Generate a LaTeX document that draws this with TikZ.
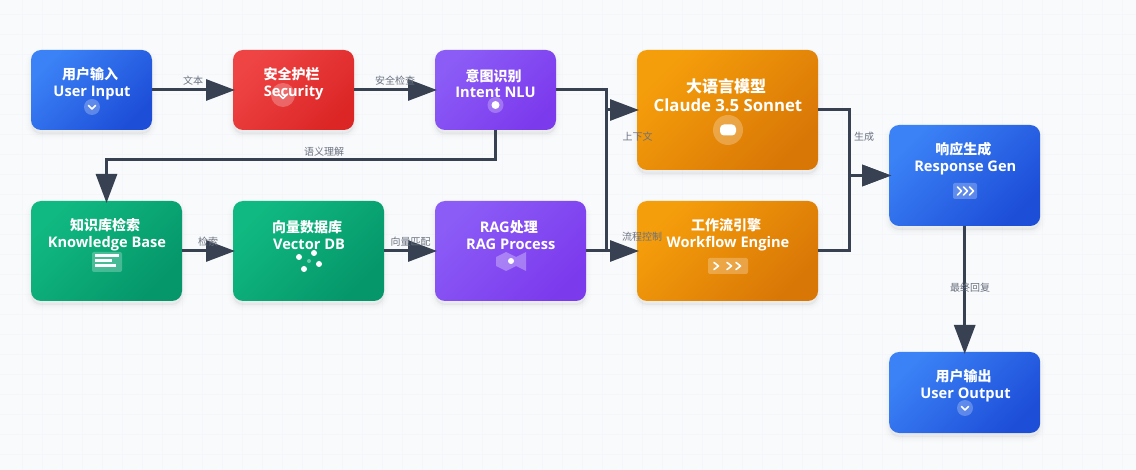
\documentclass[tikz,border=0pt]{standalone}
\usepackage{fontspec}
\setmainfont[Scale=1.045]{Open Sans}
\newfontfamily\cjk{Noto Sans CJK SC}
\newcommand{\zh}[1]{{\cjk #1}\kern4pt}
\usetikzlibrary{arrows.meta,shadows,calc}
\definecolor{bgc}{HTML}{F9FAFC}
\definecolor{gridc}{HTML}{F4F6F9}
\definecolor{linec}{HTML}{374151}
\definecolor{labelc}{HTML}{6B7280}
\definecolor{blueA}{HTML}{3B82F6}
\definecolor{blueB}{HTML}{1D4ED8}
\definecolor{redA}{HTML}{EF4444}
\definecolor{redB}{HTML}{DC2626}
\definecolor{purpleA}{HTML}{8B5CF6}
\definecolor{purpleB}{HTML}{7C3AED}
\definecolor{orangeA}{HTML}{F59E0B}
\definecolor{orangeB}{HTML}{D97706}
\definecolor{greenA}{HTML}{10B981}
\definecolor{greenB}{HTML}{059669}
\tikzset{
  softshadow/.style={
    general shadow={fill=black,draw=black,line width=11pt,opacity=.008,shadow yshift=-4pt},
    general shadow={fill=black,draw=black,line width=7pt,opacity=.012,shadow yshift=-4pt},
    general shadow={fill=black,draw=black,line width=3pt,opacity=.02,shadow yshift=-4pt}},
  boxbase/.style={rectangle,rounded corners=10pt,inner sep=0pt,outer sep=0pt,softshadow,minimum width=#1},
  bluebox/.style={boxbase=#1,left color=blueA,right color=blueB,shading angle=45},
  redbox/.style={boxbase=#1,left color=redA,right color=redB,shading angle=45},
  purplebox/.style={boxbase=#1,left color=purpleA,right color=purpleB,shading angle=45},
  orangebox/.style={boxbase=#1,left color=orangeA,right color=orangeB,shading angle=45},
  greenbox/.style={boxbase=#1,left color=greenA,right color=greenB,shading angle=45},
  title/.style={text=white,align=center,inner sep=0pt,font=\fontsize{14}{16.8}\selectfont\bfseries},
  bigtitle/.style={text=white,align=center,inner sep=0pt,font=\fontsize{16}{19.4}\selectfont\bfseries},
  edgelabel/.style={text=labelc,inner sep=0pt,font=\fontsize{10}{12}\selectfont\cjk},
  conn/.style={draw=linec,line width=3pt,-{Triangle[length=29pt,width=21pt]},shorten >=-2pt},
  halo/.style={fill=white,fill opacity=.25},
  chev/.style={draw=white,line width=1.6pt,line cap=round,line join=round},
}
\begin{document}
\begin{tikzpicture}[x=1pt,y=-1pt]
\useasboundingbox (0,0) rectangle (1136,470);
\fill[bgc] (0,0) rectangle (1136,470);
\foreach \gx in {22,42,...,1122} \draw[gridc,line width=.8pt] (\gx,0) -- (\gx,470);
\foreach \gy in {14,34,...,454} \draw[gridc,line width=.8pt] (0,\gy) -- (1136,\gy);

% boxes
\node[bluebox=121pt,minimum height=80pt] (user) at (91.5,90) {};
\node[redbox=121pt,minimum height=80pt] (security) at (293.5,90) {};
\node[purplebox=121pt,minimum height=80pt] (intent) at (495.5,90) {};
\node[orangebox=181pt,minimum height=120pt] (llm) at (727.5,110) {};
\node[greenbox=151pt,minimum height=100pt] (kb) at (106.5,251) {};
\node[greenbox=151pt,minimum height=100pt] (vector) at (308.5,251) {};
\node[purplebox=151pt,minimum height=100pt] (rag) at (510.5,251) {};
\node[orangebox=181pt,minimum height=100pt] (workflow) at (727.5,251) {};
\node[bluebox=151pt,minimum height=101pt] (response) at (964.7,175.5) {};
\node[bluebox=151pt,minimum height=81pt] (output) at (964.7,392.5) {};

% icons
\fill[halo] (92,107) circle (8);
\draw[chev] (88.5,105.5) -- (92,109) -- (95.5,105.5);
\fill[halo] (283,95) circle (12);
\draw[chev] (278.5,94) -- (283,98.5) -- (287.5,94);
\fill[halo] (495.5,105) circle (8);
\fill[white] (495.5,105) circle (4);
\fill[halo] (728,130) circle (15);
\fill[white,rounded corners=4pt] (720,124.5) rectangle (736,135.5);
\fill[white,fill opacity=.25,rounded corners=2pt] (92,252) rectangle (122,272);
\foreach \ly/\lx in {256/119,261/112,266/116} \fill[white] (95,\ly-1.5) rectangle (\lx,\ly+1.5);
\foreach \dx/\dy in {299/257,314/253,319/264,304/269} \fill[white] (\dx,\dy) circle (3);
\fill[white,fill opacity=.4] (309,261) circle (2);
\fill[white,fill opacity=.3] (496,257) -- (506,252) -- (516,257) -- (526,252) -- (526,271) -- (516,266) -- (506,271) -- (496,266) -- cycle;
\fill[white] (511,261) circle (3);
\fill[white,fill opacity=.25,rounded corners=2pt] (708,258) rectangle (748,274);
\foreach \cx in {714,727,736} \draw[chev] (\cx,262.5) -- (\cx+4.5,266) -- (\cx,269.5);
\fill[white,fill opacity=.25,rounded corners=2pt] (953,183) rectangle (977,199);
\foreach \cx in {957.5,963.5,969.5} \draw[chev] (\cx,187) -- (\cx+4,191) -- (\cx,195);
\fill[halo] (965,408) circle (8);
\draw[chev] (961.5,406.5) -- (965,410) -- (968.5,406.5);

% titles
\node[title] (tuser) at (92,83.5) {\zh{用户输入}\\User Input};
\node[title] (tsecurity) at (293.7,83.5) {\zh{安全护栏}\\Security};
\node[title] (tintent) at (495.5,83.5) {\zh{意图识别}\\Intent NLU};
\node[bigtitle] (tllm) at (728,95) {\zh{大语言模型}\\Claude 3.5 Sonnet};
\node[title] (tkb) at (107,235) {\zh{知识库检索}\\Knowledge Base};
\node[title] (tvector) at (309,235) {\zh{向量数据库}\\Vector DB};
\node[title] (trag) at (510.8,235) {RAG\zh{处理}\\RAG Process};
\node[title] (tworkflow) at (728,235) {\zh{工作流引擎}\\Workflow Engine};
\node[title] (tresponse) at (965.3,159) {\zh{响应生成}\\Response Gen};
\node[title] (toutput) at (965.5,386) {\zh{用户输出}\\User Output};

% connectors
\path[conn] (user.east) -- (security.west);
\path[conn] (security.east) -- (intent.west);
\coordinate (busA) at (606.7,90);
\coordinate (busB) at (849,175.5);
\coordinate (busC) at (495.5,160);
\coordinate (busD) at (106.5,160);
\path[conn] (intent.east) -- (busA |- intent.east) -- (busA |- workflow.west) -- (workflow.west);
\path[conn] (rag.east) -- (busA |- rag.east) -- (busA |- llm.west) -- (llm.west);
\path[conn] (intent.south) -- (busC) -- (busD) -- (kb.north);
\path[conn] (kb.east) -- (vector.west);
\path[conn] (vector.east) -- (rag.west);
\path[conn] (llm.east) -- (busB |- llm.east) -- (busB |- response.west) -- (response.west);
\path[conn] (workflow.east) -- (busB |- workflow.east) -- (busB |- response.west) -- (response.west);
\path[conn] (response.south) -- (output.north);

% labels
\node[edgelabel] (l1) at (193,81) {文本};
\node[edgelabel] (l2) at (395,81) {安全检查};
\node[edgelabel] (l3) at (324,152) {语义理解};
\node[edgelabel] (l4) at (637.5,137) {上下文};
\node[edgelabel] (l5) at (208,242) {检索};
\node[edgelabel] (l6) at (410.5,242) {向量匹配};
\node[edgelabel] (l7) at (642,237) {流程控制};
\node[edgelabel] (l8) at (864,137) {生成};
\node[edgelabel] (l9) at (970,288) {最终回复};
\end{tikzpicture}
\end{document}
